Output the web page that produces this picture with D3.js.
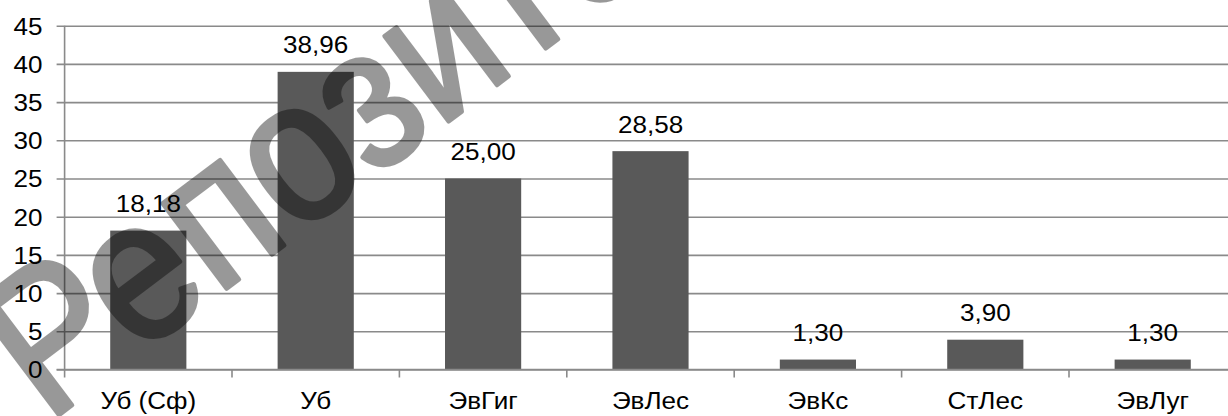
<!DOCTYPE html>
<html>
<head>
<meta charset="utf-8">
<script src="https://cdn.jsdelivr.net/npm/d3@7"></script>
<style>
  html, body { margin: 0; padding: 0; background: #fff; }
  svg { display: block; }
  text { font-family: "Liberation Sans", Arial, sans-serif; }
</style>
</head>
<body>
<div id="chart"></div>
<script>
// Share of species by group, %
const categories = ["Уб (Сф)", "Уб", "ЭвГиг", "ЭвЛес", "ЭвКс", "СтЛес", "ЭвЛуг"];
const values = [18.18, 38.96, 25.00, 28.58, 1.30, 3.90, 1.30];
const yTicks = [0, 5, 10, 15, 20, 25, 30, 35, 40, 45];
const watermark = "Репозиторий ВГУ";

const W = 1228, H = 416;
const plotLeft = 64.6, plotRight = 1236.4, plotTop = 25.7, plotBottom = 369.5;
const stretch = 1.12;   // horizontal stretch applied to all text
const fontSize = 23.3;

const svg = d3.select("#chart").append("svg")
  .attr("width", W).attr("height", H);

const x = d3.scaleBand().domain(categories).range([plotLeft, plotRight]).padding(0);
const y = d3.scaleLinear().domain([0, 45]).range([plotBottom, plotTop]);
const barW = x.bandwidth() * 0.455;
const fmt = v => d3.format(".2f")(v).replace(".", ",");
const place = (px, py) => `translate(${px},${py}) scale(${stretch},1)`;

// horizontal gridlines with short ticks left of the axis
const yAxis = d3.axisLeft(y).tickValues(yTicks)
  .tickSizeOuter(0).tickPadding(0)
  .tickFormat(d3.format("d"));
const gy = svg.append("g").attr("transform", `translate(${plotLeft},0)`).call(yAxis);
gy.select(".domain").remove();
gy.selectAll(".tick line")
  .attr("x1", -8).attr("x2", W)
  .attr("stroke", "#8a8a8a").attr("stroke-width", 1.6);
gy.selectAll(".tick text")
  .attr("x", null).attr("dy", null)
  .attr("transform", place(-22, 8.3))
  .attr("fill", "#000").attr("font-size", fontSize)
  .attr("font-family", "Liberation Sans, Arial, sans-serif");

// vertical axis line
svg.append("line")
  .attr("x1", plotLeft).attr("x2", plotLeft)
  .attr("y1", y(45)).attr("y2", plotBottom + 8)
  .attr("stroke", "#8a8a8a").attr("stroke-width", 1.6);

// category boundary ticks below the baseline
const bounds = categories.slice(1).map(c => x(c));
svg.selectAll(".xtick").data(bounds).join("line")
  .attr("class", "xtick")
  .attr("x1", d => d).attr("x2", d => d)
  .attr("y1", plotBottom).attr("y2", plotBottom + 8)
  .attr("stroke", "#8a8a8a").attr("stroke-width", 1.6);

// bars
svg.selectAll(".bar").data(values).join("rect")
  .attr("class", "bar")
  .attr("x", (d, i) => x(categories[i]) + x.bandwidth() / 2 - barW / 2)
  .attr("y", d => y(d))
  .attr("width", barW)
  .attr("height", d => plotBottom - y(d))
  .attr("fill", "#595959");

// baseline on top of bars
svg.append("line")
  .attr("x1", plotLeft - 8).attr("x2", W)
  .attr("y1", plotBottom).attr("y2", plotBottom)
  .attr("stroke", "#8a8a8a").attr("stroke-width", 1.6);

// value labels
svg.selectAll(".val").data(values).join("text")
  .attr("class", "val")
  .attr("transform", (d, i) => place(x(categories[i]) + x.bandwidth() / 2, y(d) - 18.5))
  .attr("text-anchor", "middle")
  .attr("font-size", fontSize)
  .attr("fill", "#000")
  .text(d => fmt(d));

// category labels
svg.selectAll(".cat").data(categories).join("text")
  .attr("class", "cat")
  .attr("transform", d => place(x(d) + x.bandwidth() / 2, 409))
  .attr("text-anchor", "middle")
  .attr("font-size", fontSize)
  .attr("fill", "#000")
  .text(d => d);

// diagonal watermark, drawn in a translucent group so the outline does not double up
svg.append("g")
  .attr("opacity", 0.4)
  .append("text")
  .attr("transform", "translate(47,424) rotate(-37) scale(1,1.12)")
  .attr("font-size", 180)
  .attr("fill", "#000")
  .attr("stroke", "#000")
  .attr("stroke-width", 4)
  .attr("stroke-linejoin", "round")
  .text(watermark);
</script>
</body>
</html>
